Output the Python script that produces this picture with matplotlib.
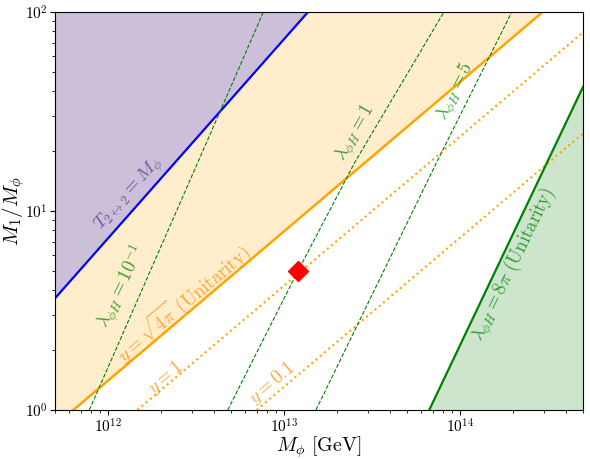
import math
import matplotlib
matplotlib.use("Agg")
import matplotlib.pyplot as plt
from matplotlib.ticker import FuncFormatter

plt.rcParams['mathtext.fontset'] = 'cm'
plt.rcParams['font.family'] = 'serif'
plt.rcParams['font.serif'] = ['cmr10', 'DejaVu Serif']
plt.rcParams['axes.formatter.use_mathtext'] = True

# curves (M_phi in GeV, M1/M_phi)
m_T = [5e11, 1.37e13]          # T_{2<->2} = M_phi
r_T = [3.64, 100]

m_y4pi = [5e11, 6.36e11, 2.95e14]  # y = sqrt(4 pi)
r_y4pi = [0.835, 1.0, 100]

m_y1 = [1.47e12, 5e14]         # y = 1
r_y1 = [1.0, 79]

m_y01 = [7.0e12, 5e14]         # y = 0.1
r_y01 = [1.0, 24.5]

m_lam01 = [7.84e11, 3.44e12, 7.64e12]   # lambda = 0.1
r_lam01 = [1.0, 19.8, 100]

m_lam1 = [4.79e12, 1.2e13, 2.53e13, 8.11e13]   # lambda = 1
r_lam1 = [1.0, 4.99, 17.6, 100]

m_lam5 = [1.52e13, 7.38e13, 1.97e14]   # lambda = 5
r_lam5 = [1.0, 17.6, 100]

m_lam8pi = [6.69e13, 5e14]     # lambda = 8 pi
r_lam8pi = [1.0, 42]

bench_m = [1.2e13]
bench_r = [5.0]

xmin, xmax = 5e11, 5e14
ymin, ymax = 1, 100

fig = plt.figure(figsize=(5.9, 4.59), dpi=100)
ax = fig.add_axes([0.0932, 0.1068, 0.8949, 0.8671])

ax.fill_between(m_y4pi, r_y4pi, ymax, color='orange', alpha=0.2, lw=0)
ax.fill_between(m_T, r_T, ymax, color='#cbbfd9', lw=0)
ax.fill_betweenx(r_lam8pi, m_lam8pi, xmax, color='green', alpha=0.2, lw=0)

ax.plot(m_T, r_T, color='blue', lw=1.6)
ax.plot(m_y4pi, r_y4pi, color='orange', lw=1.8)
ax.plot(m_y1, r_y1, color='orange', lw=1.5, ls=':')
ax.plot(m_y01, r_y01, color='orange', lw=1.5, ls=':')
ax.plot(m_lam01, r_lam01, color='green', lw=0.8, ls='--')
ax.plot(m_lam1, r_lam1, color='green', lw=0.8, ls='--')
ax.plot(m_lam5, r_lam5, color='green', lw=0.8, ls='--')
ax.plot(m_lam8pi, r_lam8pi, color='green', lw=1.6)
ax.plot(bench_m, bench_r, 'D', color='red', ms=10.5, zorder=5)

ax.set_xscale('log')
ax.set_yscale('log')
ax.set_xlim(xmin, xmax)
ax.set_ylim(ymin, ymax)

fmt = FuncFormatter(lambda v, p: r'$10^{%d}$' % round(math.log10(v)))
ax.xaxis.set_major_formatter(fmt)
ax.yaxis.set_major_formatter(fmt)
ax.tick_params(axis='both', which='major', labelsize=11, pad=2)

ax.set_xlabel(r'$M_\phi\ [\mathrm{GeV}]$', fontsize=14.5)
ax.set_ylabel(r'$M_1/M_\phi$', fontsize=15)
ax.xaxis.set_label_coords(0.5, -0.062)
ax.yaxis.set_label_coords(-0.053, 0.5)

def label(px, py, s, color, rot, size=13.5, alpha=0.75):
    ax.text(px / 590, 1 - py / 459, s, transform=fig.transFigure, color=color,
            rotation=rot, rotation_mode='anchor', ha='center', va='center',
            fontsize=size, alpha=alpha)

label(129, 194, r'$T_{2\leftrightarrow 2} = M_\phi$', 'darkslateblue', 48)
label(122, 287, r'$\lambda_{\phi H} = 10^{-1}$', 'green', 64)
label(183, 303, r'$y = \sqrt{4\pi}\ \mathrm{(Unitarity)}$', 'darkorange', 40)
label(165, 378, r'$y = 1$', 'darkorange', 40)
label(272, 383, r'$y = 0.1$', 'darkorange', 40)
label(356, 133, r'$\lambda_{\phi H} = 1$', 'green', 60)
label(456, 92, r'$\lambda_{\phi H} = 5$', 'green', 63)
label(514, 265, r'$\lambda_{\phi H} = 8\pi\ \mathrm{(Unitarity)}$', 'green', 64)

fig.savefig('out.png', dpi=100)
